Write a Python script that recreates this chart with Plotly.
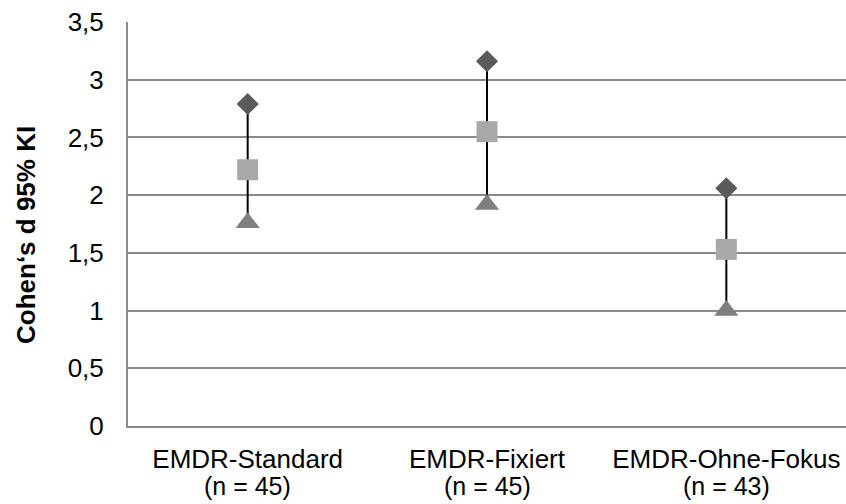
import plotly.graph_objects as go

# Effect sizes (Cohen's d) with 95% confidence limits per condition
groups = ["EMDR-Standard", "EMDR-Fixiert", "EMDR-Ohne-Fokus"]
group_n = ["(n = 45)", "(n = 45)", "(n = 43)"]
upper = [2.79, 3.16, 2.06]
d_value = [2.22, 2.55, 1.53]
lower = [1.76, 1.92, 1.00]
y_ticks = [0, 0.5, 1, 1.5, 2, 2.5, 3, 3.5]

FONT = "Liberation Sans, Arial, sans-serif"
GRID = "#8a8a8a"

fig = go.Figure()

# high-low connector for each group
for g, lo, hi in zip(groups, lower, upper):
    fig.add_trace(go.Scatter(
        x=[g, g], y=[lo, hi], mode="lines",
        line=dict(color="black", width=2), hoverinfo="skip", showlegend=False,
    ))

fig.add_trace(go.Scatter(
    x=groups, y=upper, mode="markers", name="oberes KI",
    marker=dict(symbol="diamond", size=17, color="#5a5a5a"), showlegend=False,
))
fig.add_trace(go.Scatter(
    x=groups, y=lower, mode="markers", name="unteres KI",
    marker=dict(symbol="triangle-up", size=21, color="#7f7f7f"), showlegend=False,
))
fig.add_trace(go.Scatter(
    x=groups, y=d_value, mode="markers", name="Cohen's d",
    marker=dict(symbol="square", size=21, color="#a8a8a8"), showlegend=False,
))

# sample sizes below the category names
for g, n in zip(groups, group_n):
    fig.add_annotation(
        x=g, xref="x", y=0, yref="paper", yanchor="top", yshift=-45,
        text=n, showarrow=False, borderpad=0,
        font=dict(family=FONT, size=25, color="black"),
    )

# rotated y-axis title
fig.add_annotation(
    x=0, xref="paper", xshift=-119, y=0.5, yref="paper", yshift=-11,
    text="<b>Cohen‘s d 95% KI</b>", textangle=-90, showarrow=False,
    font=dict(family=FONT, size=26, color="black"),
)

fig.update_layout(
    width=846, height=504,
    margin=dict(l=128, r=0, t=22, b=78),
    paper_bgcolor="white", plot_bgcolor="white",
    separators=", ",
    font=dict(family=FONT, size=26, color="black"),
    xaxis=dict(
        type="category", categoryorder="array", categoryarray=groups,
        range=[-0.5, 2.5], showgrid=False, showline=True,
        linecolor=GRID, linewidth=2, ticks="", ticklabelstandoff=9,
        tickfont=dict(family=FONT, size=26, color="black"),
    ),
    yaxis=dict(
        range=[0, 3.5], tickvals=y_ticks, showgrid=True, gridcolor=GRID,
        gridwidth=1.5, zeroline=False, showline=True, linecolor=GRID,
        linewidth=2, ticks="", ticklabelstandoff=17,
        tickfont=dict(family=FONT, size=26, color="black"),
    ),
)

fig.write_html("out.html")
